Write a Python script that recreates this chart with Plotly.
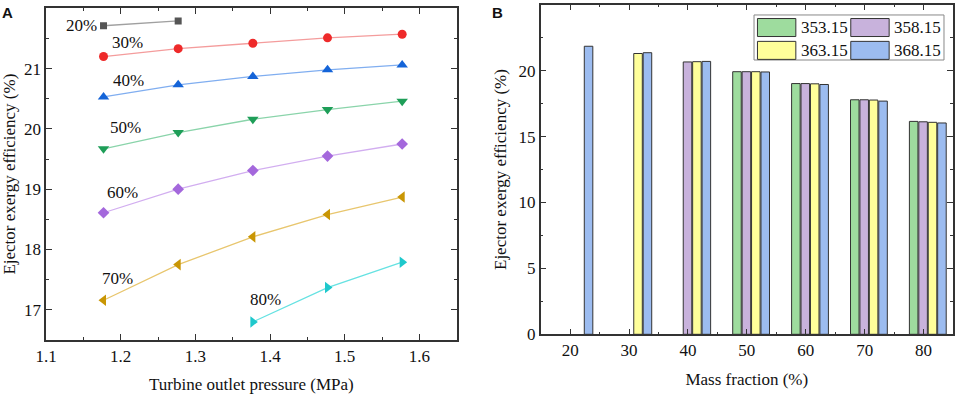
import plotly.graph_objects as go

# ---------------- Panel A data ----------------
pressure = [1.177, 1.277, 1.377, 1.477, 1.577]
frac_labels = ["20%", "30%", "40%", "50%", "60%", "70%", "80%"]
eff_20 = [21.71, 21.79, None, None, None]
eff_30 = [21.20, 21.33, 21.42, 21.51, 21.57]
eff_40 = [20.53, 20.73, 20.87, 20.98, 21.06]
eff_50 = [19.67, 19.94, 20.16, 20.32, 20.46]
eff_60 = [18.61, 19.00, 19.31, 19.55, 19.75]
eff_70 = [17.16, 17.75, 18.21, 18.58, 18.87]
eff_80 = [None, None, 16.80, 17.37, 17.79]
series_a = [eff_20, eff_30, eff_40, eff_50, eff_60, eff_70, eff_80]

# label anchor positions (x, y) for the percentage labels
label_pos = [(1.147, 21.71), (1.2085, 21.43), (1.21, 20.81), (1.207, 20.02),
             (1.2025, 18.94), (1.196, 17.52), (1.3935, 17.17)]

# ---------------- Panel B data ----------------
mass_fraction = [20, 30, 40, 50, 60, 70, 80]
temps = ["353.15", "358.15", "363.15", "368.15"]
bar_353 = [None, None, None, 19.92, 19.02, 17.79, 16.15]
bar_358 = [None, None, 20.66, 19.92, 19.02, 17.79, 16.12]
bar_363 = [None, 21.30, 20.68, 19.92, 19.00, 17.77, 16.08]
bar_368 = [21.85, 21.36, 20.70, 19.90, 18.95, 17.69, 16.03]
series_b = [bar_353, bar_358, bar_363, bar_368]

# ---------------- styles ----------------
marker_cols = ["#555555", "#ee2a2a", "#1464d8", "#1e9e58", "#a468dc", "#c99604", "#1ec8cc"]
line_cols = ["#a0a0a0", "#f49c9c", "#80aef0", "#8ad4aa", "#d2aef0", "#e8c66e", "#66e2e2"]
symbols = ["square", "circle", "triangle-up", "triangle-down", "diamond", "triangle-left", "triangle-right"]
msizes = [7, 9, 10, 10, 9, 10, 10]
bar_cols = ["#9edc9e", "#c8b2dc", "#ffff9a", "#9cbcf0"]
bar_offsets = [-2.4, -0.8, 0.8, 2.4]
bar_width = 1.45

FONT = "Liberation Serif"
AX = "#333333"

fig = go.Figure()

for i, ys in enumerate(series_a):
    fig.add_trace(go.Scatter(
        x=pressure, y=ys, mode="lines+markers", xaxis="x", yaxis="y",
        line=dict(color=line_cols[i], width=1.3),
        marker=dict(symbol=symbols[i], size=msizes[i], color=marker_cols[i],
                    line=dict(width=0)),
        connectgaps=False, showlegend=False, name=frac_labels[i]))

for i, ys in enumerate(series_b):
    fig.add_trace(go.Bar(
        x=mass_fraction, y=ys, xaxis="x2", yaxis="y2",
        width=bar_width, offset=bar_offsets[i],
        marker=dict(color=bar_cols[i], line=dict(color="#333333", width=1)),
        showlegend=False, name=temps[i]))

annotations = []
for lab, (lx, ly) in zip(frac_labels, label_pos):
    annotations.append(dict(x=lx, y=ly, xref="x", yref="y", text=lab, showarrow=False,
                            font=dict(family=FONT, size=17, color="#111111")))
annotations.append(dict(x=0.0, y=0.995, xref="paper", yref="paper", xanchor="left", yanchor="top",
                        text="<b>A</b>", showarrow=False,
                        font=dict(family="Liberation Sans", size=15, color="#111111")))
annotations.append(dict(x=0.512, y=0.995, xref="paper", yref="paper", xanchor="left", yanchor="top",
                        text="<b>B</b>", showarrow=False,
                        font=dict(family="Liberation Sans", size=15, color="#111111")))

# custom legend for panel B (2 x 2)
shapes = []
lg_x0, lg_x1, lg_y0, lg_y1 = 0.7879, 0.9864, 0.8477, 0.962
shapes.append(dict(type="rect", xref="paper", yref="paper", x0=lg_x0, x1=lg_x1, y0=lg_y0, y1=lg_y1,
                   line=dict(color="#888888", width=1), fillcolor="white", layer="above"))
col_x = [0.7915, 0.8890]
row_y = [0.953, 0.895]
sw_w, sw_h = 0.0401, 0.0457
for i, name in enumerate(temps):
    cx = col_x[i % 2]
    ry = row_y[i // 2]
    shapes.append(dict(type="rect", xref="paper", yref="paper", x0=cx, x1=cx + sw_w,
                       y0=ry - sw_h, y1=ry, line=dict(color="#333333", width=1),
                       fillcolor=bar_cols[i], layer="above"))
    annotations.append(dict(x=cx + sw_w + 0.003, y=ry - sw_h / 2, xref="paper", yref="paper",
                            xanchor="left", yanchor="middle", text=name, showarrow=False,
                            font=dict(family=FONT, size=17, color="#111111")))

axis_common = dict(showline=True, linecolor=AX, linewidth=1.5, mirror="ticks",
                   ticks="inside", ticklen=6, tickwidth=1.3, tickcolor=AX,
                   showgrid=False, zeroline=False, automargin=False,
                   tickfont=dict(family=FONT, size=17, color="#111111"))

fig.update_layout(
    width=957, height=394, margin=dict(l=0, r=0, t=0, b=0),
    plot_bgcolor="white", paper_bgcolor="white", barmode="overlay",
    font=dict(family=FONT, color="#111111"),
    xaxis=dict(domain=[0.0481, 0.4772], range=[1.1, 1.65], dtick=0.1, tick0=1.1,
               tickformat=".1f", anchor="y",
               minor=dict(ticks="inside", ticklen=3, tickcolor=AX, dtick=0.05, tick0=1.1),
               title=dict(text="Turbine outlet pressure (MPa)", standoff=14,
                          font=dict(family=FONT, size=17)), **axis_common),
    yaxis=dict(domain=[0.137, 0.979], range=[16.5, 22], dtick=1, anchor="x",
               minor=dict(ticks="inside", ticklen=3, tickcolor=AX, dtick=0.5),
               title=dict(text="Ejector exergy efficiency (%)", standoff=8,
                          font=dict(family=FONT, size=17)), **axis_common),
    xaxis2=dict(domain=[0.565, 0.9958], range=[15, 85], dtick=10, tick0=0, anchor="y2",
                minor=dict(ticks="inside", ticklen=3, tickcolor=AX, dtick=5),
                title=dict(text="Mass fraction (%)", standoff=14,
                           font=dict(family=FONT, size=17)), **axis_common),
    yaxis2=dict(domain=[0.1515, 0.988], range=[0, 25], dtick=5, anchor="x2",
                minor=dict(ticks="inside", ticklen=3, tickcolor=AX, dtick=2.5),
                title=dict(text="Ejector exergy efficiency (%)", standoff=8,
                           font=dict(family=FONT, size=17)), **axis_common),
    annotations=annotations, shapes=shapes,
)

fig.write_html("out.html", config={"displayModeBar": False},
               post_script="document.body.style.margin='0';document.body.style.padding='0';"
                           "document.body.style.overflow='hidden';")
